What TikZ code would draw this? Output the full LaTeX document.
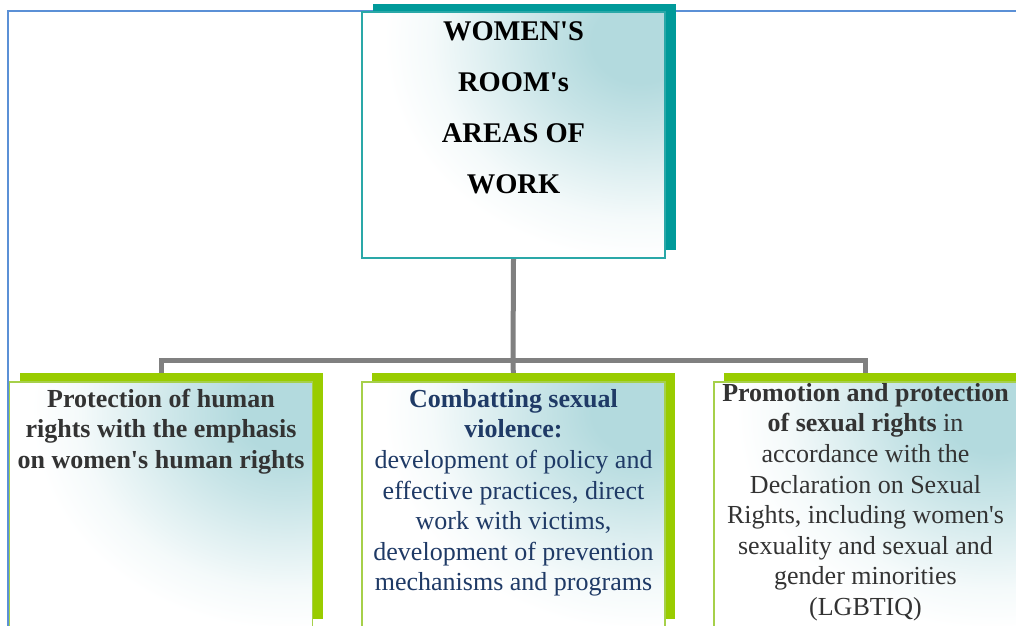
\documentclass[tikz,border=0pt]{standalone}
\usepackage{fontspec}
\setmainfont{Liberation Serif}[Ligatures=TeXOff]
\usetikzlibrary{shadows,calc,backgrounds}
\definecolor{frameblue}{HTML}{5B90D6}
\definecolor{tealshadow}{HTML}{009A9A}
\definecolor{tealedge}{HTML}{2AA8A8}
\definecolor{greenshadow}{HTML}{99CC00}
\definecolor{greenedge}{HTML}{A6D04A}
\definecolor{hl}{HTML}{B3DADE}
\definecolor{conn}{HTML}{808080}
\definecolor{navytext}{HTML}{1F3A66}
\definecolor{dgrey}{HTML}{333333}
\colorlet{hlA}{hl!72!white}
\colorlet{hlB}{hl!40!white}
\colorlet{hlC}{hl!14!white}
\pgfdeclareradialshading{cornerglow}{\pgfpoint{0bp}{0bp}}{color(0bp)=(hl); color(3bp)=(hl); color(6.5bp)=(hlA); color(10bp)=(hlB); color(13bp)=(hlC); color(16bp)=(white); color(25bp)=(white); color(50bp)=(white)}
\begin{document}
\begin{tikzpicture}[x=1pt,y=1pt,
  panel/.style={rectangle, inner sep=0pt, minimum width=303pt, minimum height=246pt, line width=1.4pt, fill=white,
     path picture={\shade[shading=cornerglow] ($(path picture bounding box.north east)+(-25,-30)$) ellipse [x radius=400, y radius=340];}},
  titlebox/.style={panel, draw=tealedge, general shadow={fill=tealshadow, shadow xshift=11pt, shadow yshift=8pt}},
  areabox/.style={panel, draw=greenedge, general shadow={fill=greenshadow, shadow xshift=10pt, shadow yshift=9pt}},
  titletext/.style={inner sep=0pt, align=center, font=\fontsize{28.5}{50.8}\selectfont\bfseries, text=black},
  areatext/.style={inner sep=0pt, align=center, font=\fontsize{26}{30.6}\selectfont},
  connector/.style={draw=conn, line width=5pt, line join=miter},
  frameline/.style={draw=frameblue, line width=2pt}
]
\useasboundingbox (0,0) rectangle (1016,-625);
\clip (0,0) rectangle (1016,-625);

\node[titlebox] (title) at (513.5,-135) {};
\node[areabox] (a1) at (161,-505) {};
\node[areabox] (a2) at (513.5,-505) {};
\node[areabox] (a3) at (865.5,-505) {};

\begin{scope}[on background layer]
  \coordinate (frametl) at (8,-11);
  \draw[frameline] (8,-640) -- (frametl) -- (1030,-11);
  \coordinate (j) at (513,-360);
  \draw[connector] (title.south) -- (j);
  \draw[connector] (j) -| (a1.north);
  \draw[connector] (j) -| (a3.north);
  \draw[connector] (j) -- (a2.north);
\end{scope}

\node[titletext, anchor=north] (tt) at ($(title.north)+(0,-10.5)$) {WOMEN'S\\ROOM's\\AREAS OF\\WORK};

\node[areatext, text=dgrey, anchor=north] (t1) at ($(a1.north)+(0,-7.5)$)
  {\bfseries Protection of human\\\bfseries rights with the emphasis\\\bfseries on women's human rights};

\node[areatext, text=navytext, anchor=north] (t2) at ($(a2.north)+(0,-7.8)$)
  {\textbf{Combatting sexual}\\\textbf{violence:}\\development of policy and\\effective practices, direct\\work with victims,\\development of prevention\\mechanisms and programs};

\node[areatext, text=dgrey, anchor=north] (t3) at ($(a3.north)+(0,-1.8)$)
  {\textbf{Promotion and protection}\\\textbf{of sexual rights} in\\accordance with the\\Declaration on Sexual\\Rights, including women's\\sexuality and sexual and\\gender minorities\\(LGBTIQ)};
\end{tikzpicture}
\end{document}
